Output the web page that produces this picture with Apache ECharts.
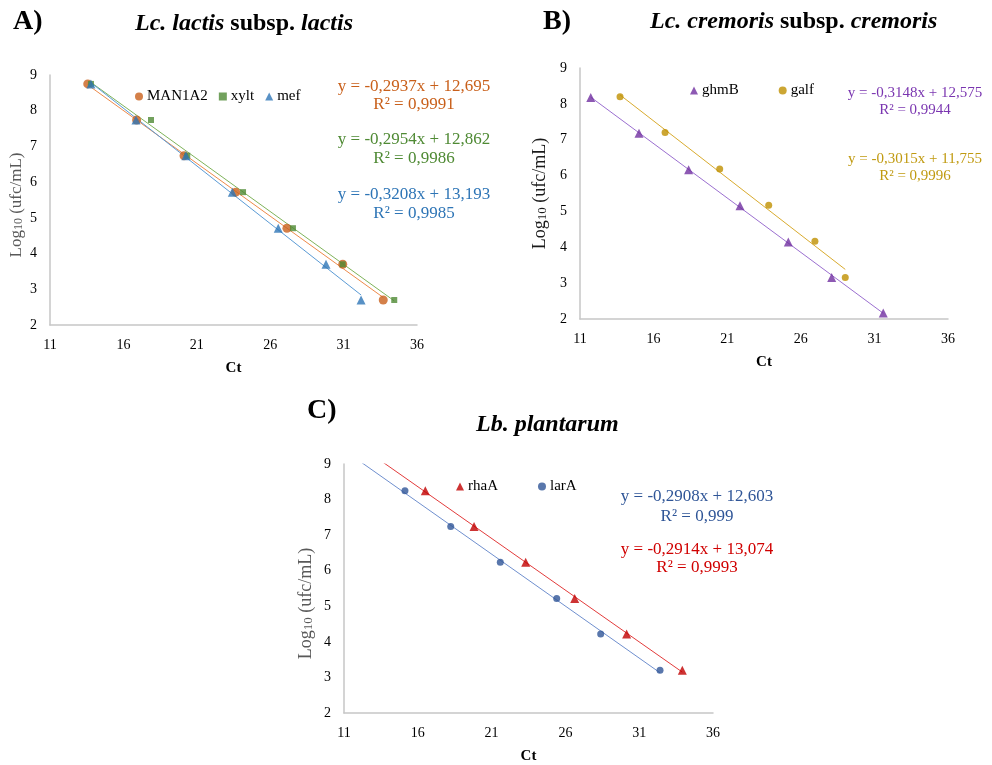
<!DOCTYPE html>
<html>
<head>
<meta charset="utf-8">
<script src="https://cdn.jsdelivr.net/npm/echarts@6/dist/echarts.min.js"></script>
<style>
  html, body { margin: 0; padding: 0; background: #fff; }
  #chart { width: 992px; height: 765px; }
</style>
</head>
<body>
<div id="chart"></div>
<script>
// ---- data ----
// A) Lc. lactis subsp. lactis
const ctMan1a2 = [13.57, 16.90, 20.13, 23.65, 27.14, 30.94, 33.70];
const logMan1a2 = [8.75, 7.74, 6.74, 5.72, 4.71, 3.70, 2.70];
const ctXylt = [13.79, 17.88, 20.35, 24.15, 27.55, 30.94, 34.45];
const logXylt = [8.75, 7.74, 6.74, 5.72, 4.71, 3.70, 2.70];
const ctMef = [13.79, 16.86, 20.26, 23.42, 26.55, 29.80, 32.19];
const logMef = [8.75, 7.74, 6.74, 5.72, 4.71, 3.70, 2.70];
// B) Lc. cremoris subsp. cremoris
const ctGhmB = [11.73, 15.01, 18.38, 21.87, 25.15, 28.10, 31.60];
const logGhmB = [8.18, 7.18, 6.16, 5.16, 4.15, 3.16, 2.17];
const ctGalf = [13.72, 16.78, 20.49, 23.82, 26.96, 29.02];
const logGalf = [8.20, 7.20, 6.18, 5.17, 4.17, 3.16];
// C) Lb. plantarum
const ctRhaA = [16.51, 19.81, 23.31, 26.63, 30.15, 33.92];
const logRhaA = [8.25, 7.24, 6.24, 5.22, 4.22, 3.20];
const ctLarA = [15.13, 18.23, 21.59, 25.41, 28.39, 32.41];
const logLarA = [8.25, 7.24, 6.24, 5.22, 4.22, 3.20];

// axis ranges and printed equations
const xMin = 11, xMax = 36, xStep = 5;
const yMin = 2, yMax = 9, yStep = 1;
const eqA = [['y = -0,2937x + 12,695', 'R² = 0,9991'], ['y = -0,2954x + 12,862', 'R² = 0,9986'], ['y = -0,3208x + 13,193', 'R² = 0,9985']];
const eqB = [['y = -0,3148x + 12,575', 'R² = 0,9944'], ['y = -0,3015x + 11,755', 'R² = 0,9996']];
const eqC = [['y = -0,2908x + 12,603', 'R² = 0,999'], ['y = -0,2914x + 13,074', 'R² = 0,9993']];

const FONT = '"Liberation Serif", "Times New Roman", serif';

function pairs(xs, ys){
    return xs.map((x, i) => [x, ys[i]]);
}

// least squares line, drawn over the data range (with optional backward forecast)
function trend(xs, ys, back){
    const n = xs.length;
    const mx = xs.reduce((a, b) => a + b, 0) / n;
    const my = ys.reduce((a, b) => a + b, 0) / n;
    let sxy = 0, sxx = 0;
    for (let i = 0; i < n; i++){
        sxy += (xs[i] - mx) * (ys[i] - my);
        sxx += (xs[i] - mx) * (xs[i] - mx);
    }
    const k = sxy / sxx;
    const b = my - k * mx;
    const x0 = Math.min(...xs) - (back || 0);
    const x1 = Math.max(...xs);
    return [[x0, k * x0 + b], [x1, k * x1 + b]];
}

const grids = [
    {left: 50, top: 75, width: 367, height: 250},
    {left: 580, top: 68, width: 368, height: 251},
    {left: 344, top: 464, width: 369, height: 250}
];

function xAxisFor(i){
    return {
        type: 'value', gridIndex: i, min: xMin, max: xMax, interval: xStep,
        name: 'Ct', nameLocation: 'middle', nameGap: 36,
        nameTextStyle: {fontFamily: FONT, fontSize: 15, fontWeight: 'bold', color: '#000'},
        axisLine: {show: true, lineStyle: {color: '#c6c6c6', width: 1.5}},
        axisTick: {show: false},
        splitLine: {show: false},
        axisLabel: {fontFamily: FONT, fontSize: 14, color: '#000', margin: 13}
    };
}

function yAxisFor(i, nameColor, nameSize, gap, shift){
    return {
        type: 'value', gridIndex: i, min: yMin, max: yMax, interval: yStep,
        name: 'Log{sub|10} (ufc/mL)', nameLocation: 'middle', nameGap: gap,
        nameTextStyle: {
            fontFamily: FONT, fontSize: nameSize, color: nameColor,
            padding: [0, shift, 0, 0],
            rich: {sub: {fontFamily: FONT, fontSize: nameSize - 5, color: nameColor, verticalAlign: 'bottom', lineHeight: 10}}
        },
        axisLine: {show: true, lineStyle: {color: '#c6c6c6', width: 1.5}},
        axisTick: {show: false},
        splitLine: {show: false},
        axisLabel: {fontFamily: FONT, fontSize: 14, color: '#000', margin: 13}
    };
}

function scatter(name, xs, ys, idx, symbol, size, color){
    return {
        name: name, type: 'scatter', xAxisIndex: idx, yAxisIndex: idx,
        data: pairs(xs, ys), symbol: symbol, symbolSize: size,
        itemStyle: {color: color}, z: 3
    };
}

function fitLine(name, xs, ys, idx, color, back){
    return {
        name: 'fit ' + name, type: 'line', xAxisIndex: idx, yAxisIndex: idx,
        data: trend(xs, ys, back), symbol: 'none', silent: true, clip: true,
        lineStyle: {color: color, width: 1}, z: 2
    };
}

function legendFor(names, left, top, gap){
    return {
        data: names, left: left, top: top, itemGap: gap, padding: 0,
        itemWidth: 8, itemHeight: 8, selectedMode: false,
        textStyle: {fontFamily: FONT, fontSize: 15, color: '#000', padding: [0, 0, 0, -1]}
    };
}

function eqText(lines, cx, y1, y2, color, size){
    const font = size + 'px ' + FONT;
    return [
        {type: 'text', x: cx, y: y1, style: {text: lines[0], fill: color, font: font, align: 'center', verticalAlign: 'middle', textAlign: 'center', textVerticalAlign: 'middle'}},
        {type: 'text', x: cx, y: y2, style: {text: lines[1], fill: color, font: font, align: 'center', verticalAlign: 'middle', textAlign: 'center', textVerticalAlign: 'middle'}}
    ];
}

function heading(x, y, text, size){
    return {
        type: 'text', x: x, y: y,
        style: {
            text: text, fill: '#000', verticalAlign: 'middle', textVerticalAlign: 'middle',
            font: 'bold ' + size + 'px ' + FONT,
            rich: {
                bi: {fontFamily: FONT, fontSize: size, fontWeight: 'bold', fontStyle: 'italic', color: '#000'},
                b: {fontFamily: FONT, fontSize: size, fontWeight: 'bold', color: '#000'}
            }
        }
    };
}

const chart = echarts.init(document.getElementById('chart'));

const option = {
    animation: false,
    backgroundColor: '#fff',
    grid: grids,
    xAxis: [xAxisFor(0), xAxisFor(1), xAxisFor(2)],
    yAxis: [
        yAxisFor(0, '#595959', 17, 25, 10),
        yAxisFor(1, '#1a1a1a', 18, 31, 0),
        yAxisFor(2, '#595959', 18, 29, 30)
    ],
    legend: [
        legendFor(['MAN1A2', 'xylt', 'mef'], 135, 89, 11),
        legendFor(['ghmB', 'galf'], 690, 83, 40),
        legendFor(['rhaA', 'larA'], 456, 479, 40)
    ],
    series: [
        fitLine('MAN1A2', ctMan1a2, logMan1a2, 0, '#ee8a4a'),
        fitLine('xylt', ctXylt, logXylt, 0, '#7fb35a'),
        fitLine('mef', ctMef, logMef, 0, '#5b9bd5'),
        scatter('MAN1A2', ctMan1a2, logMan1a2, 0, 'circle', 9, '#c9601b'),
        scatter('xylt', ctXylt, logXylt, 0, 'rect', 6, '#4f8a34'),
        scatter('mef', ctMef, logMef, 0, 'triangle', 9, '#2e75b6'),

        fitLine('ghmB', ctGhmB, logGhmB, 1, '#9b6fd0'),
        fitLine('galf', ctGalf, logGalf, 1, '#d9ab2e'),
        scatter('ghmB', ctGhmB, logGhmB, 1, 'triangle', 9, '#7030a0'),
        scatter('galf', ctGalf, logGalf, 1, 'circle', 7, '#bf9000'),

        fitLine('rhaA', ctRhaA, logRhaA, 2, '#e23b3b', 3),
        fitLine('larA', ctLarA, logLarA, 2, '#6f8fce', 3),
        scatter('rhaA', ctRhaA, logRhaA, 2, 'triangle', 9, '#c00000'),
        scatter('larA', ctLarA, logLarA, 2, 'circle', 7, '#2f5597')
    ],
    graphic: {
        elements: [
            heading(13, 22, 'A)', 28),
            heading(135, 24, '{bi|Lc. lactis}{b| subsp. }{bi|lactis}', 24),
            heading(543, 22, 'B)', 28),
            heading(650, 22, '{bi|Lc. cremoris}{b| subsp. }{bi|cremoris}', 24),
            heading(307, 411, 'C)', 28),
            heading(476, 425, '{bi|Lb. plantarum}', 24)
        ]
        .concat(eqText(eqA[0], 414, 87, 105, '#c9601b', 17))
        .concat(eqText(eqA[1], 414, 140, 159, '#4f8a34', 17))
        .concat(eqText(eqA[2], 414, 195, 214, '#2e75b6', 17))
        .concat(eqText(eqB[0], 915, 93, 110, '#7a35b0', 15))
        .concat(eqText(eqB[1], 915, 159, 176, '#c09a10', 15))
        .concat(eqText(eqC[0], 697, 497, 517, '#2f5597', 17))
        .concat(eqText(eqC[1], 697, 550, 568, '#d00000', 17))
    }
};

chart.setOption(option);
</script>
</body>
</html>
